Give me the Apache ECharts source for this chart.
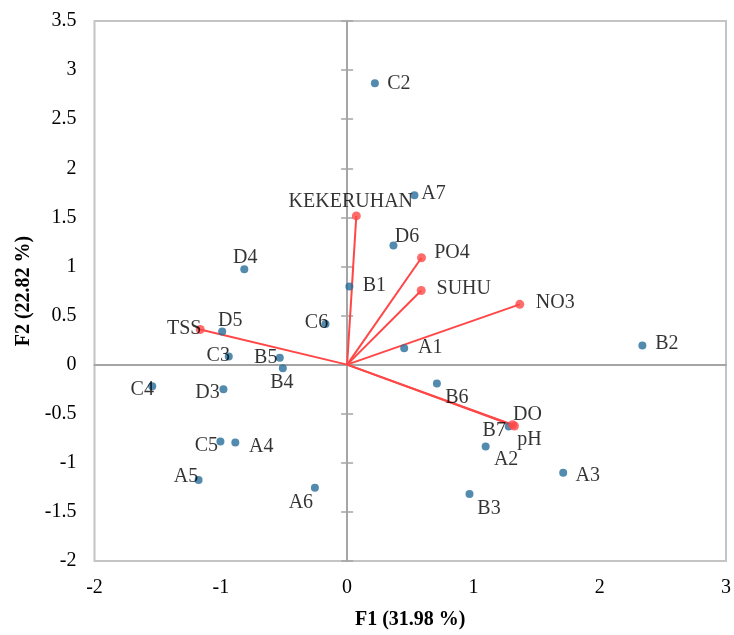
<!DOCTYPE html>
<html><head><meta charset="utf-8">
<script src="https://cdn.jsdelivr.net/npm/echarts@6/dist/echarts.min.js"></script>
<style>html,body{margin:0;padding:0;background:#fff}#c{width:734px;height:635px}</style>
</head><body><div id="c"></div>
<script>
// ---- data ----
const obsNames = ['C2','A7','D6','B1','C6','D4','D5','C3','B5','B4','C4','D3','C5','A4','A5','A6','A1','B2','B6','B7','A2','A3','B3'];
const obsF1 = [0.220,0.533,0.367,0.018,-0.171,-0.814,-0.989,-0.937,-0.533,-0.509,-1.543,-0.979,-1.003,-0.885,-1.176,-0.255,0.452,2.338,0.711,1.280,1.097,1.711,0.969];
const obsF2 = [2.867,1.724,1.213,0.795,0.415,0.972,0.338,0.083,0.070,-0.037,-0.219,-0.251,-0.782,-0.792,-1.174,-1.255,0.167,0.194,-0.191,-0.631,-0.835,-1.100,-1.318];
const varNames = ['KEKERUHAN','PO4','SUHU','NO3','TSS','DO','pH'];
const varF1 = [0.073,0.589,0.587,1.367,-1.163,1.310,1.325];
const varF2 = [1.515,1.089,0.755,0.614,0.358,-0.612,-0.625];
const xMin = -2, xMax = 3, xStep = 1;
const yMin = -2, yMax = 3.5, yStep = 0.5;
const xTitle = 'F1 (31.98 %)';
const yTitle = 'F2 (22.82 %)';

// ---- layout: label offsets (px) from each marker centre ----
const labelOffset = {
  C2:[24,0.5], A7:[19,-1.5], D6:[13.5,-9], B1:[25,-0.5], C6:[-9,-1.5], D4:[1,-11.5], D5:[8,-11],
  C3:[-10.5,-1], B5:[-14,-0.5], B4:[-1,14.5], C4:[-10,4], D3:[-16,3.5], C5:[-14,4.5], A4:[26,4],
  A5:[-12.5,-3.5], A6:[-14,14.5], A1:[26,0], B2:[24.5,-1.5], B6:[20,14], B7:[-14.5,4],
  A2:[20.5,13.5], A3:[24.5,3], B3:[19.5,14.5],
  KEKERUHAN:[-5.5,-14.5], PO4:[30.5,-5], SUHU:[42.5,-2], NO3:[35.5,-1.5], TSS:[-16,-1],
  DO:[15,-9.5], pH:[15,14]
};

const FONT = "'Liberation Serif','Times New Roman',serif";
const BLUE = '#276e98';
const RED = '#ff4747';
const ZERO = '#a5a5a5';

function lbl(name){
  return {show:true, position:'inside', offset:labelOffset[name]||[0,0],
    formatter:name, color:'#000', fontFamily:FONT, fontSize:20};
}

const series = [];
varNames.forEach((n,i)=>{
  series.push({type:'line', xAxisIndex:0, yAxisIndex:0, silent:true, showSymbol:false,
    data:[[0,0],[varF1[i],varF2[i]]], lineStyle:{color:RED,width:2}, z:3, animation:false});
});
series.push({type:'scatter', xAxisIndex:0, yAxisIndex:0, symbolSize:8, z:4, animation:false,
  itemStyle:{color:BLUE},
  data:obsNames.map((n,i)=>({name:n, value:[obsF1[i],obsF2[i]], label:lbl(n)}))});
series.push({type:'scatter', xAxisIndex:0, yAxisIndex:0, symbolSize:9, z:5, animation:false,
  itemStyle:{color:RED},
  data:varNames.map((n,i)=>({name:n, value:[varF1[i],varF2[i]], label:lbl(n)}))});

const base = {type:'value', splitLine:{show:false}};
const chart = echarts.init(document.getElementById('c'), null, {renderer:'canvas'});
chart.setOption({
  animation:false,
  grid:{left:94.5, right:4.5, top:21, bottom:67, show:true, borderColor:'#c4c4c4', borderWidth:2, containLabel:false},
  xAxis:[
    Object.assign({}, base, {min:xMin, max:xMax, interval:xStep, position:'bottom',
      axisLine:{show:false, onZero:false}, axisTick:{show:false},
      axisLabel:{margin:17, color:'#000', fontFamily:FONT, fontSize:20},
      name:xTitle, nameLocation:'middle', nameGap:49,
      nameTextStyle:{color:'#000', fontFamily:FONT, fontSize:20, fontWeight:'bold'}}),
    Object.assign({}, base, {min:xMin, max:xMax, interval:xStep,
      axisLine:{show:true, onZero:true, onZeroAxisIndex:0, lineStyle:{color:ZERO,width:2}},
      axisTick:{show:false}, axisLabel:{show:false}})
  ],
  yAxis:[
    Object.assign({}, base, {min:yMin, max:yMax, interval:yStep, position:'left',
      axisLine:{show:false, onZero:false}, axisTick:{show:false},
      axisLabel:{margin:18, color:'#000', fontFamily:FONT, fontSize:20},
      name:yTitle, nameLocation:'middle', nameGap:48,
      nameTextStyle:{color:'#000', fontFamily:FONT, fontSize:20, fontWeight:'bold'}}),
    Object.assign({}, base, {min:yMin, max:yMax, interval:yStep,
      axisLine:{show:true, onZero:true, onZeroAxisIndex:0, lineStyle:{color:ZERO,width:2}},
      axisTick:{show:true, inside:true, length:6, lineStyle:{color:ZERO,width:1.5}}, axisLabel:{show:false}}),
    Object.assign({}, base, {min:yMin, max:yMax, interval:yStep,
      axisLine:{show:false, onZero:true, onZeroAxisIndex:0},
      axisTick:{show:true, inside:false, length:6, lineStyle:{color:ZERO,width:1.5}}, axisLabel:{show:false}})
  ],
  series:series
});
</script>
</body></html>
